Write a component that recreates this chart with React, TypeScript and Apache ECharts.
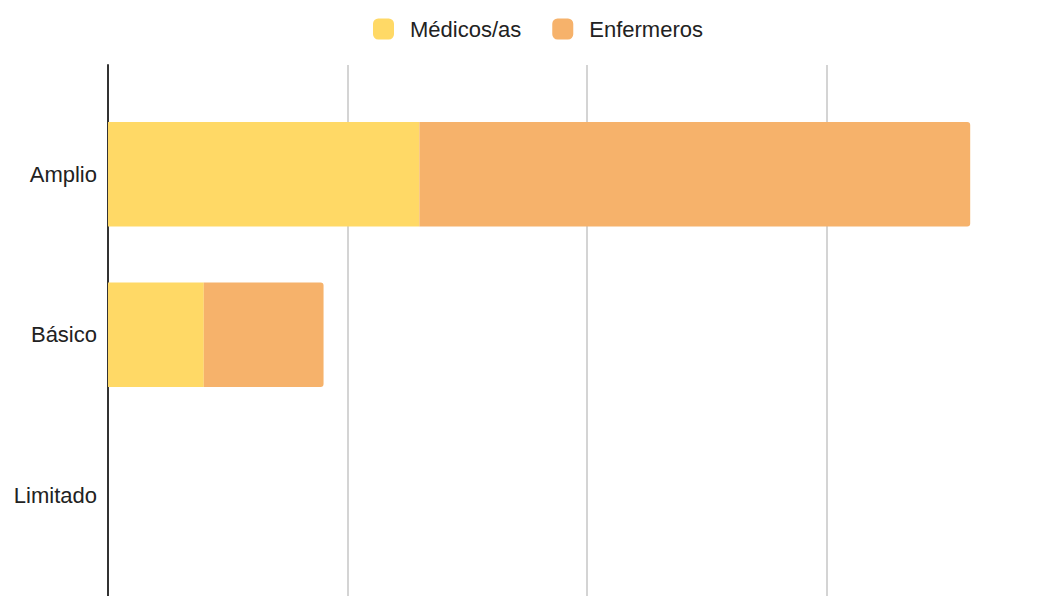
import React, { useEffect, useRef } from "react";
import * as echarts from "echarts";

const categories = ["Amplio", "Básico", "Limitado"];
const medicos = [13, 4, 0];
const enfermeros = [23, 5, 0];
const seriesNames = ["Médicos/as", "Enfermeros"];
const colors = ["#FFD966", "#F6B26B"];
const axisMin = 0;
const axisMax = 40;
const axisInterval = 10;

export default function App() {
  const ref = useRef<HTMLDivElement>(null);
  useEffect(() => {
    if (!ref.current) return;
    const chart = echarts.init(ref.current, undefined, { renderer: "svg" });
    const font = "'Liberation Sans', Arial, sans-serif";
    chart.setOption({
      animation: false,
      color: colors,
      legend: {
        top: 13,
        left: 368,
        itemWidth: 21,
        itemHeight: 21,
        itemGap: 31,
        icon: "roundRect",
        textStyle: { fontFamily: font, fontSize: 22, color: "#222", padding: [0, 0, 0, 11] },
        data: seriesNames,
      },
      grid: [
        { left: 108, right: 4, top: 94, height: 481.5 },
        { left: 108, right: 4, top: 65, height: 560 },
      ],
      xAxis: [
        {
          gridIndex: 0,
          type: "value",
          min: axisMin,
          max: axisMax,
          interval: axisInterval,
          axisLine: { show: false },
          axisTick: { show: false },
          axisLabel: { show: false },
          splitLine: { show: false },
        },
        {
          gridIndex: 1,
          type: "value",
          min: axisMin,
          max: axisMax,
          interval: axisInterval,
          axisLine: { show: false },
          axisTick: { show: false },
          axisLabel: { show: false },
          splitLine: { show: true, lineStyle: { color: "#d4d4d4", width: 2 } },
        },
      ],
      yAxis: [
        {
          gridIndex: 0,
          type: "category",
          inverse: true,
          data: categories,
          axisLine: { show: false },
          axisTick: { show: false },
          axisLabel: { fontFamily: font, fontSize: 22, color: "#222", margin: 11 },
        },
        {
          gridIndex: 1,
          type: "value",
          min: 0,
          max: 1,
          axisLine: { show: true, lineStyle: { color: "#333", width: 2 } },
          axisTick: { show: false },
          axisLabel: { show: false },
          splitLine: { show: false },
        },
      ],
      series: [
        {
          name: seriesNames[0],
          type: "bar",
          stack: "total",
          xAxisIndex: 0,
          yAxisIndex: 0,
          barWidth: "65%",
          data: medicos,
          itemStyle: { color: colors[0] },
        },
        {
          name: seriesNames[1],
          type: "bar",
          stack: "total",
          xAxisIndex: 0,
          yAxisIndex: 0,
          barWidth: "65%",
          data: enfermeros,
          itemStyle: { color: colors[1], borderRadius: [0, 3, 3, 0] },
        },
      ],
    });
    return () => chart.dispose();
  }, []);
  return (
    <div style={{ width: 1054, height: 596, position: "absolute", left: 0, top: 0, overflow: "hidden" }}>
      <div ref={ref} style={{ width: 1070, height: 596 }} />
    </div>
  );
}
